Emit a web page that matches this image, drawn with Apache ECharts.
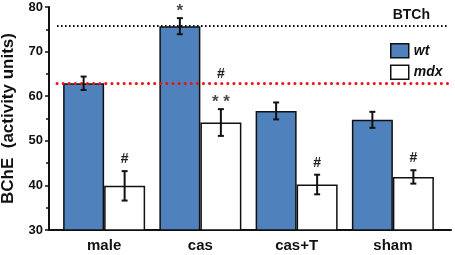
<!DOCTYPE html>
<html>
<head>
<meta charset="utf-8">
<script src="https://cdn.jsdelivr.net/npm/echarts@6/dist/echarts.min.js"></script>
<style>html,body{margin:0;padding:0;background:#fff}#c{width:455px;height:255px}</style>
</head>
<body>
<div id="c"></div>
<script>
const categories = ['male', 'cas', 'cas+T', 'sham'];
const wtMean = [62.9, 75.7, 56.7, 54.7];
const wtErr = [1.5, 1.8, 1.9, 1.8];
const mdxMean = [39.9, 54.1, 40.2, 41.9];
const mdxErr = [3.3, 3.0, 2.2, 1.5];
const wtMarks = [[], ['*'], [], []];
const mdxMarks = [['#'], ['#', '* *'], ['#'], ['#']];
const blackRef = 75.7;
const redRef = 62.8;
const yTicks = [30, 40, 50, 60, 70, 80];

const FONT = '"Liberation Sans", Arial, sans-serif';
const CAT_GAP = 0.148;

function errRender(side, marks) {
  return function (params, api) {
    const i = api.value(0), m = api.value(1), e = api.value(2);
    const band = api.size([1, 0])[0];
    const bw = band * (1 - CAT_GAP) / 2;
    const cx = api.coord([i, m])[0] + side * bw / 2;
    const top = api.coord([i, m + e])[1];
    const bot = api.coord([i, m - e])[1];
    const cap = 3;
    const st = { stroke: '#111', lineWidth: 2 };
    const children = [
      { type: 'line', shape: { x1: cx, y1: top, x2: cx, y2: bot }, style: st },
      { type: 'line', shape: { x1: cx - cap, y1: top, x2: cx + cap, y2: top }, style: st },
      { type: 'line', shape: { x1: cx - cap, y1: bot, x2: cx + cap, y2: bot }, style: st }
    ];
    const lines = marks[params.dataIndex];
    const n = lines.length;
    lines.forEach((txt, k) => {
      const fromBottom = n - 1 - k;
      const isStar = txt.indexOf('*') >= 0;
      const size = isStar ? 17 : 14;
      const center = top - (isStar ? 11 : 12) - 23 * fromBottom;
      children.push({
        type: 'text',
        style: {
          text: txt, x: cx, y: center + (isStar ? size * 0.24 : 0),
          align: 'center', verticalAlign: 'middle',
          font: 'bold ' + size + 'px ' + FONT, fill: isStar ? '#4a4a4a' : '#222'
        }
      });
    });
    return { type: 'group', children };
  };
}

const chart = echarts.init(document.getElementById('c'), null, { renderer: 'canvas' });
chart.setOption({
  animation: false,
  backgroundColor: '#fff',
  title: {
    text: 'BTCh', right: 20, top: 3,
    textStyle: { fontFamily: FONT, fontWeight: 'bold', fontSize: 14, color: '#111' }
  },
  legend: {
    orient: 'vertical', left: 385, top: 38, itemWidth: 18, itemHeight: 14, itemGap: 6,
    icon: 'rect',
    data: ['wt', 'mdx'],
    itemStyle: { borderColor: '#111', borderWidth: 1.5 },
    textStyle: { fontFamily: FONT, fontWeight: 'bold', fontStyle: 'italic', fontSize: 14, color: '#111' }
  },
  grid: [
    { left: 49, right: 4, top: 7, bottom: 25, outerBoundsMode: 'none' },
    { left: 56, width: 385, top: 7, bottom: 25, outerBoundsMode: 'none' },
    { left: 57, right: 7, top: 7, bottom: 25, outerBoundsMode: 'none' }
  ],
  xAxis: [
    { gridIndex: 0, type: 'value', min: 0, max: 1, axisLine: { show: true, onZero: false, lineStyle: { color: '#111', width: 2 } },
      axisTick: { show: false }, axisLabel: { show: false }, splitLine: { show: false } },
    { gridIndex: 1, type: 'category', data: categories, axisLine: { show: false }, axisTick: { show: false },
      axisLabel: { fontFamily: FONT, fontWeight: 'bold', fontSize: 15, color: '#111', margin: 8 } },
    { gridIndex: 2, type: 'value', min: 0, max: 1, show: false }
  ],
  yAxis: [
    { gridIndex: 0, type: 'value', min: 30, max: 80, interval: 10,
      name: 'BChE  (activity units)', nameLocation: 'middle', nameGap: 32, nameRotate: 90,
      nameTextStyle: { fontFamily: FONT, fontWeight: 'bold', fontSize: 17, color: '#111' },
      axisLine: { show: true, lineStyle: { color: '#111', width: 2 } },
      axisTick: { show: true, length: 4, lineStyle: { color: '#111', width: 1.5 } },
      minorTick: { show: true, splitNumber: 2, length: 3, lineStyle: { color: '#111', width: 1.5 } },
      axisLabel: { fontFamily: FONT, fontWeight: 'bold', fontSize: 13, color: '#111', margin: 6,
        formatter: v => yTicks.includes(v) ? String(v) : '' },
      splitLine: { show: false } },
    { gridIndex: 1, type: 'value', min: 30, max: 80, show: false },
    { gridIndex: 2, type: 'value', min: 30, max: 80, show: false }
  ],
  series: [
    { name: 'wt', type: 'bar', xAxisIndex: 1, yAxisIndex: 1, data: wtMean,
      barGap: '0%', barCategoryGap: (CAT_GAP * 100) + '%',
      itemStyle: { color: '#4f81bd', borderColor: '#111', borderWidth: 1.5 } },
    { name: 'mdx', type: 'bar', xAxisIndex: 1, yAxisIndex: 1, data: mdxMean,
      barGap: '0%', barCategoryGap: (CAT_GAP * 100) + '%',
      itemStyle: { color: '#ffffff', borderColor: '#111', borderWidth: 1.5 } },
    { name: 'wtErr', type: 'custom', xAxisIndex: 1, yAxisIndex: 1, z: 5,
      data: wtMean.map((m, i) => [i, m, wtErr[i]]), renderItem: errRender(-1, wtMarks) },
    { name: 'mdxErr', type: 'custom', xAxisIndex: 1, yAxisIndex: 1, z: 5,
      data: mdxMean.map((m, i) => [i, m, mdxErr[i]]), renderItem: errRender(1, mdxMarks) },
    { name: 'refs', type: 'line', xAxisIndex: 2, yAxisIndex: 2, data: [], z: 1,
      markLine: {
        silent: true, symbol: 'none', label: { show: false }, animation: false,
        data: [
          { yAxis: blackRef, lineStyle: { color: '#111', width: 1.8, type: [1.6, 2.4] } },
          { yAxis: redRef, lineStyle: { color: '#ee1111', width: 3, type: [0.1, 6], cap: 'round' } }
        ]
      } }
  ]
});
</script>
</body>
</html>
